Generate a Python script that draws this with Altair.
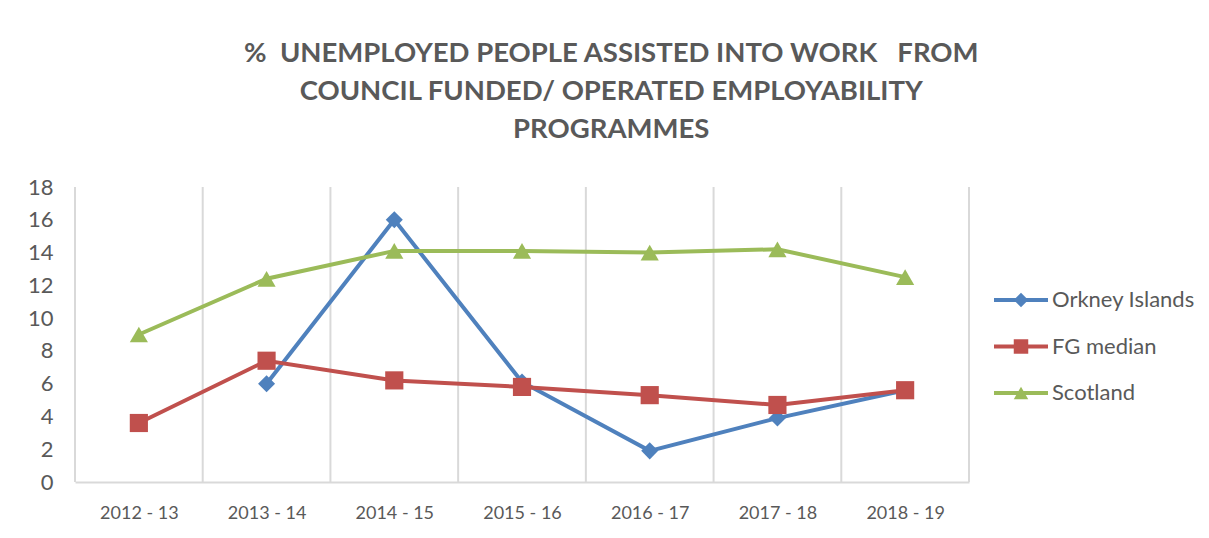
import altair as alt
import pandas as pd

categories = ["2012 - 13", "2013 - 14", "2014 - 15", "2015 - 16", "2016 - 17", "2017 - 18", "2018 - 19"]
series_names = ["Orkney Islands", "FG median", "Scotland"]
orkney = [None, 6.0, 16.0, 6.1, 1.9, 3.9, 5.6]
fg_median = [3.6, 7.4, 6.2, 5.8, 5.3, 4.7, 5.6]
scotland = [9.0, 12.4, 14.1, 14.1, 14.0, 14.2, 12.5]
colors = ["#4F81BD", "#C0504D", "#9BBB59"]
shapes = ["diamond", "square", "triangle-up"]
y_ticks = list(range(0, 20, 2))
title_lines = [
    "%\u00a0 UNEMPLOYED PEOPLE ASSISTED INTO WORK\u00a0\u00a0 FROM",
    "COUNCIL FUNDED/ OPERATED EMPLOYABILITY",
    "PROGRAMMES",
]

FONT = "Lato"
GREY = "#595959"
GRID = "#d9d9d9"

rows = []
for k, (s, vals) in enumerate(zip(series_names, [orkney, fg_median, scotland])):
    for i, (c, v) in enumerate(zip(categories, vals)):
        if v is not None:
            rows.append({"series": s, "idx": i, "cat": c, "value": v, "order": k})
df = pd.DataFrame(rows)

bounds = pd.DataFrame({"b": [i - 0.5 for i in range(len(categories) + 1)]})
legend_df = pd.DataFrame({"series": series_names, "pos": list(range(len(series_names)))})

label_expr = "[" + ",".join("'" + c + "'" for c in categories) + "][datum.value]"

xscale = alt.Scale(domain=[-0.5, len(categories) - 0.5], nice=False, zero=False)
yscale = alt.Scale(domain=[0, 18], nice=False)
cscale = alt.Scale(domain=series_names, range=colors)
sscale = alt.Scale(domain=series_names, range=shapes)

x_axis = alt.Axis(
    values=list(range(len(categories))), labelExpr=label_expr, title=None,
    grid=False, ticks=False, domainColor=GRID, domainWidth=2,
    labelFont=FONT, labelFontSize=18, labelColor=GREY, labelPadding=22,
    labelFlush=False, labelOverlap=False,
)
y_axis = alt.Axis(
    values=y_ticks, title=None, grid=False, ticks=False, domain=False,
    labelFont=FONT, labelFontSize=22, labelColor=GREY, labelPadding=22,
    labelOverlap=False, labelBound=False, tickCount=len(y_ticks),
)

X = alt.X("idx:Q", scale=xscale, axis=x_axis)
Y = alt.Y("value:Q", scale=yscale, axis=y_axis)

grid = alt.Chart(bounds).mark_rule(color=GRID, strokeWidth=2).encode(
    x=alt.X("b:Q", scale=xscale, axis=x_axis),
    y=alt.value(0),
    y2=alt.value(295),
)

lines = alt.Chart(df).mark_line(strokeWidth=4).encode(
    x=X, y=Y,
    color=alt.Color("series:N", scale=cscale, legend=None),
    detail="series:N",
)

points = alt.Chart(df).mark_point(filled=True, opacity=1).encode(
    x=X, y=Y,
    color=alt.Color("series:N", scale=cscale, legend=None),
    shape=alt.Shape("series:N", scale=sscale, legend=None),
    size=alt.condition(alt.datum.series == "Orkney Islands", alt.value(290), alt.value(330)),
    order="order:Q",
)

main = alt.layer(grid, lines, points).properties(width=894, height=295)

ly = alt.Y("pos:Q", scale=alt.Scale(domain=[0, len(series_names) - 1], range=[113, 206], nice=False, zero=False), axis=None)
leg_line = alt.Chart(legend_df).mark_rule(strokeWidth=4).encode(
    x=alt.value(24), x2=alt.value(78), y=ly,
    color=alt.Color("series:N", scale=cscale, legend=None),
)
leg_pt = alt.Chart(legend_df).mark_point(filled=True, opacity=1, size=210).encode(
    x=alt.value(51), y=ly,
    color=alt.Color("series:N", scale=cscale, legend=None),
    shape=alt.Shape("series:N", scale=sscale, legend=None),
)
leg_txt = alt.Chart(legend_df).mark_text(
    align="left", baseline="middle", font=FONT, fontSize=22, color=GREY
).encode(x=alt.value(82), y=ly, text="series:N")

legend = alt.layer(leg_line, leg_pt, leg_txt).properties(width=225, height=295)

chart = alt.hconcat(main, legend, spacing=0).properties(
    title=alt.TitleParams(
        text=title_lines, font=FONT, fontWeight="bold", fontSize=27.5, color=GREY,
        lineHeight=38, anchor="middle", offset=33,
    ),
    padding={"left": 19, "top": 31, "right": 2, "bottom": 2},
).configure_view(stroke=None).configure_axisY(labelOverlap=False)

chart.save("out.html", embed_options={"renderer": "svg", "actions": False})
